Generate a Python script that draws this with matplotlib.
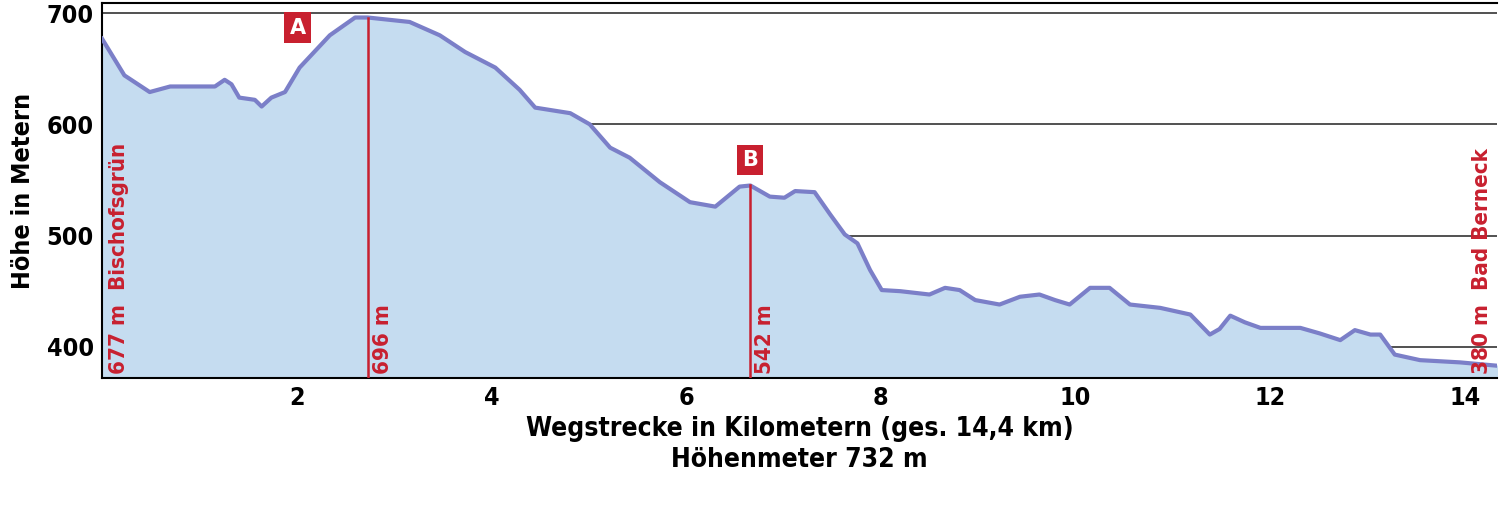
import matplotlib
matplotlib.use("Agg")
import matplotlib.pyplot as plt

km = [0,0.23,0.49,0.70,1.16,1.26,1.33,1.41,1.57,1.64,1.74,1.88,2.03,2.34,2.6,2.73,3.16,3.47,3.73,4.04,4.29,4.45,4.81,5.01,5.22,5.42,5.73,6.04,6.3,6.55,6.66,6.86,7.01,7.12,7.32,7.48,7.63,7.76,7.89,8.01,8.2,8.5,8.66,8.81,8.97,9.22,9.43,9.63,9.79,9.94,10.15,10.35,10.56,10.87,11.18,11.28,11.38,11.48,11.59,11.74,11.9,12.31,12.51,12.72,12.87,13.03,13.13,13.28,13.54,13.95,14.33]
elev = [677,644,629,634,634,640,636,624,622,616,624,629,651,680,696,696,692,680,665,651,631,615,610,600,579,570,548,530,526,544,545,535,534,540,539,519,501,493,469,451,450,447,453,451,442,438,445,447,442,438,453,453,438,435,429,420,411,416,428,422,417,417,412,406,415,411,411,393,388,386,383]
markers = ["A", "B"]
marker_km = [2.73, 6.66]
marker_elev = [696, 545]
marker_labels = ["696 m", "542 m"]
yticks = [400, 500, 600, 700]
xticks = [2, 4, 6, 8, 10, 12, 14]

F = ['Liberation Sans Narrow', 'DejaVu Sans']
ST = 'condensed'
RED = '#c8202f'
fig = plt.figure(figsize=(15, 5.08), dpi=100)
ax = fig.add_axes([0.068, 0.256, 0.93, 0.738])
ax.set_xlim(0, 14.33)
ax.set_ylim(372, 709)
for y in yticks:
    ax.axhline(y, color='#333333', lw=1.2, zorder=0)
ax.fill_between(km, elev, 372, color='#c5dcf0', zorder=1)
ax.plot(km, elev, color='#7b7fc8', lw=3, zorder=3, solid_joinstyle='round')
for lab, x, e, t in zip(markers, marker_km, marker_elev, marker_labels):
    ax.plot([x, x], [372, e], color=RED, lw=1.8, zorder=4)
    ax.text(x + 0.05, 376, t, rotation=90, color=RED, fontsize=16,
            fontweight='bold', family=F, fontstretch=ST, ha='left', va='bottom')
ax.text(2.01, 687, "A", color='white', fontsize=15, fontweight='bold', family=F,
        ha='center', va='center', bbox=dict(boxstyle='square,pad=0.25', fc=RED, ec='none'))
ax.text(6.66, 568, "B", color='white', fontsize=15, fontweight='bold', family=F,
        ha='center', va='center', bbox=dict(boxstyle='square,pad=0.25', fc=RED, ec='none'))
ax.text(0.07, 376, "677 m  Bischofsgrün", rotation=90, color=RED, fontsize=16,
        fontweight='bold', family=F, fontstretch=ST, ha='left', va='bottom')
ax.text(14.28, 376, "380 m  Bad Berneck", rotation=90, color=RED, fontsize=16,
        fontweight='bold', family=F, fontstretch=ST, ha='right', va='bottom')
ax.set_xticks(xticks)
ax.set_yticks(yticks)
ax.tick_params(labelsize=18, length=0, pad=6)
for l in ax.get_xticklabels() + ax.get_yticklabels():
    l.set_family(F); l.set_fontweight('bold'); l.set_fontstretch(ST)
ax.spines['right'].set_visible(False)
for s in ['left', 'bottom', 'top']:
    ax.spines[s].set_linewidth(1.5)
ax.set_ylabel("Höhe in Metern", fontsize=18, fontweight='bold', family=F,
              fontstretch=ST, labelpad=8)
ax.set_xlabel("Wegstrecke in Kilometern (ges. 14,4 km)\nHöhenmeter 732 m", fontsize=19,
              fontweight='bold', family=F, fontstretch=ST, labelpad=4, linespacing=1.25)
fig.savefig("out.png", dpi=100)
